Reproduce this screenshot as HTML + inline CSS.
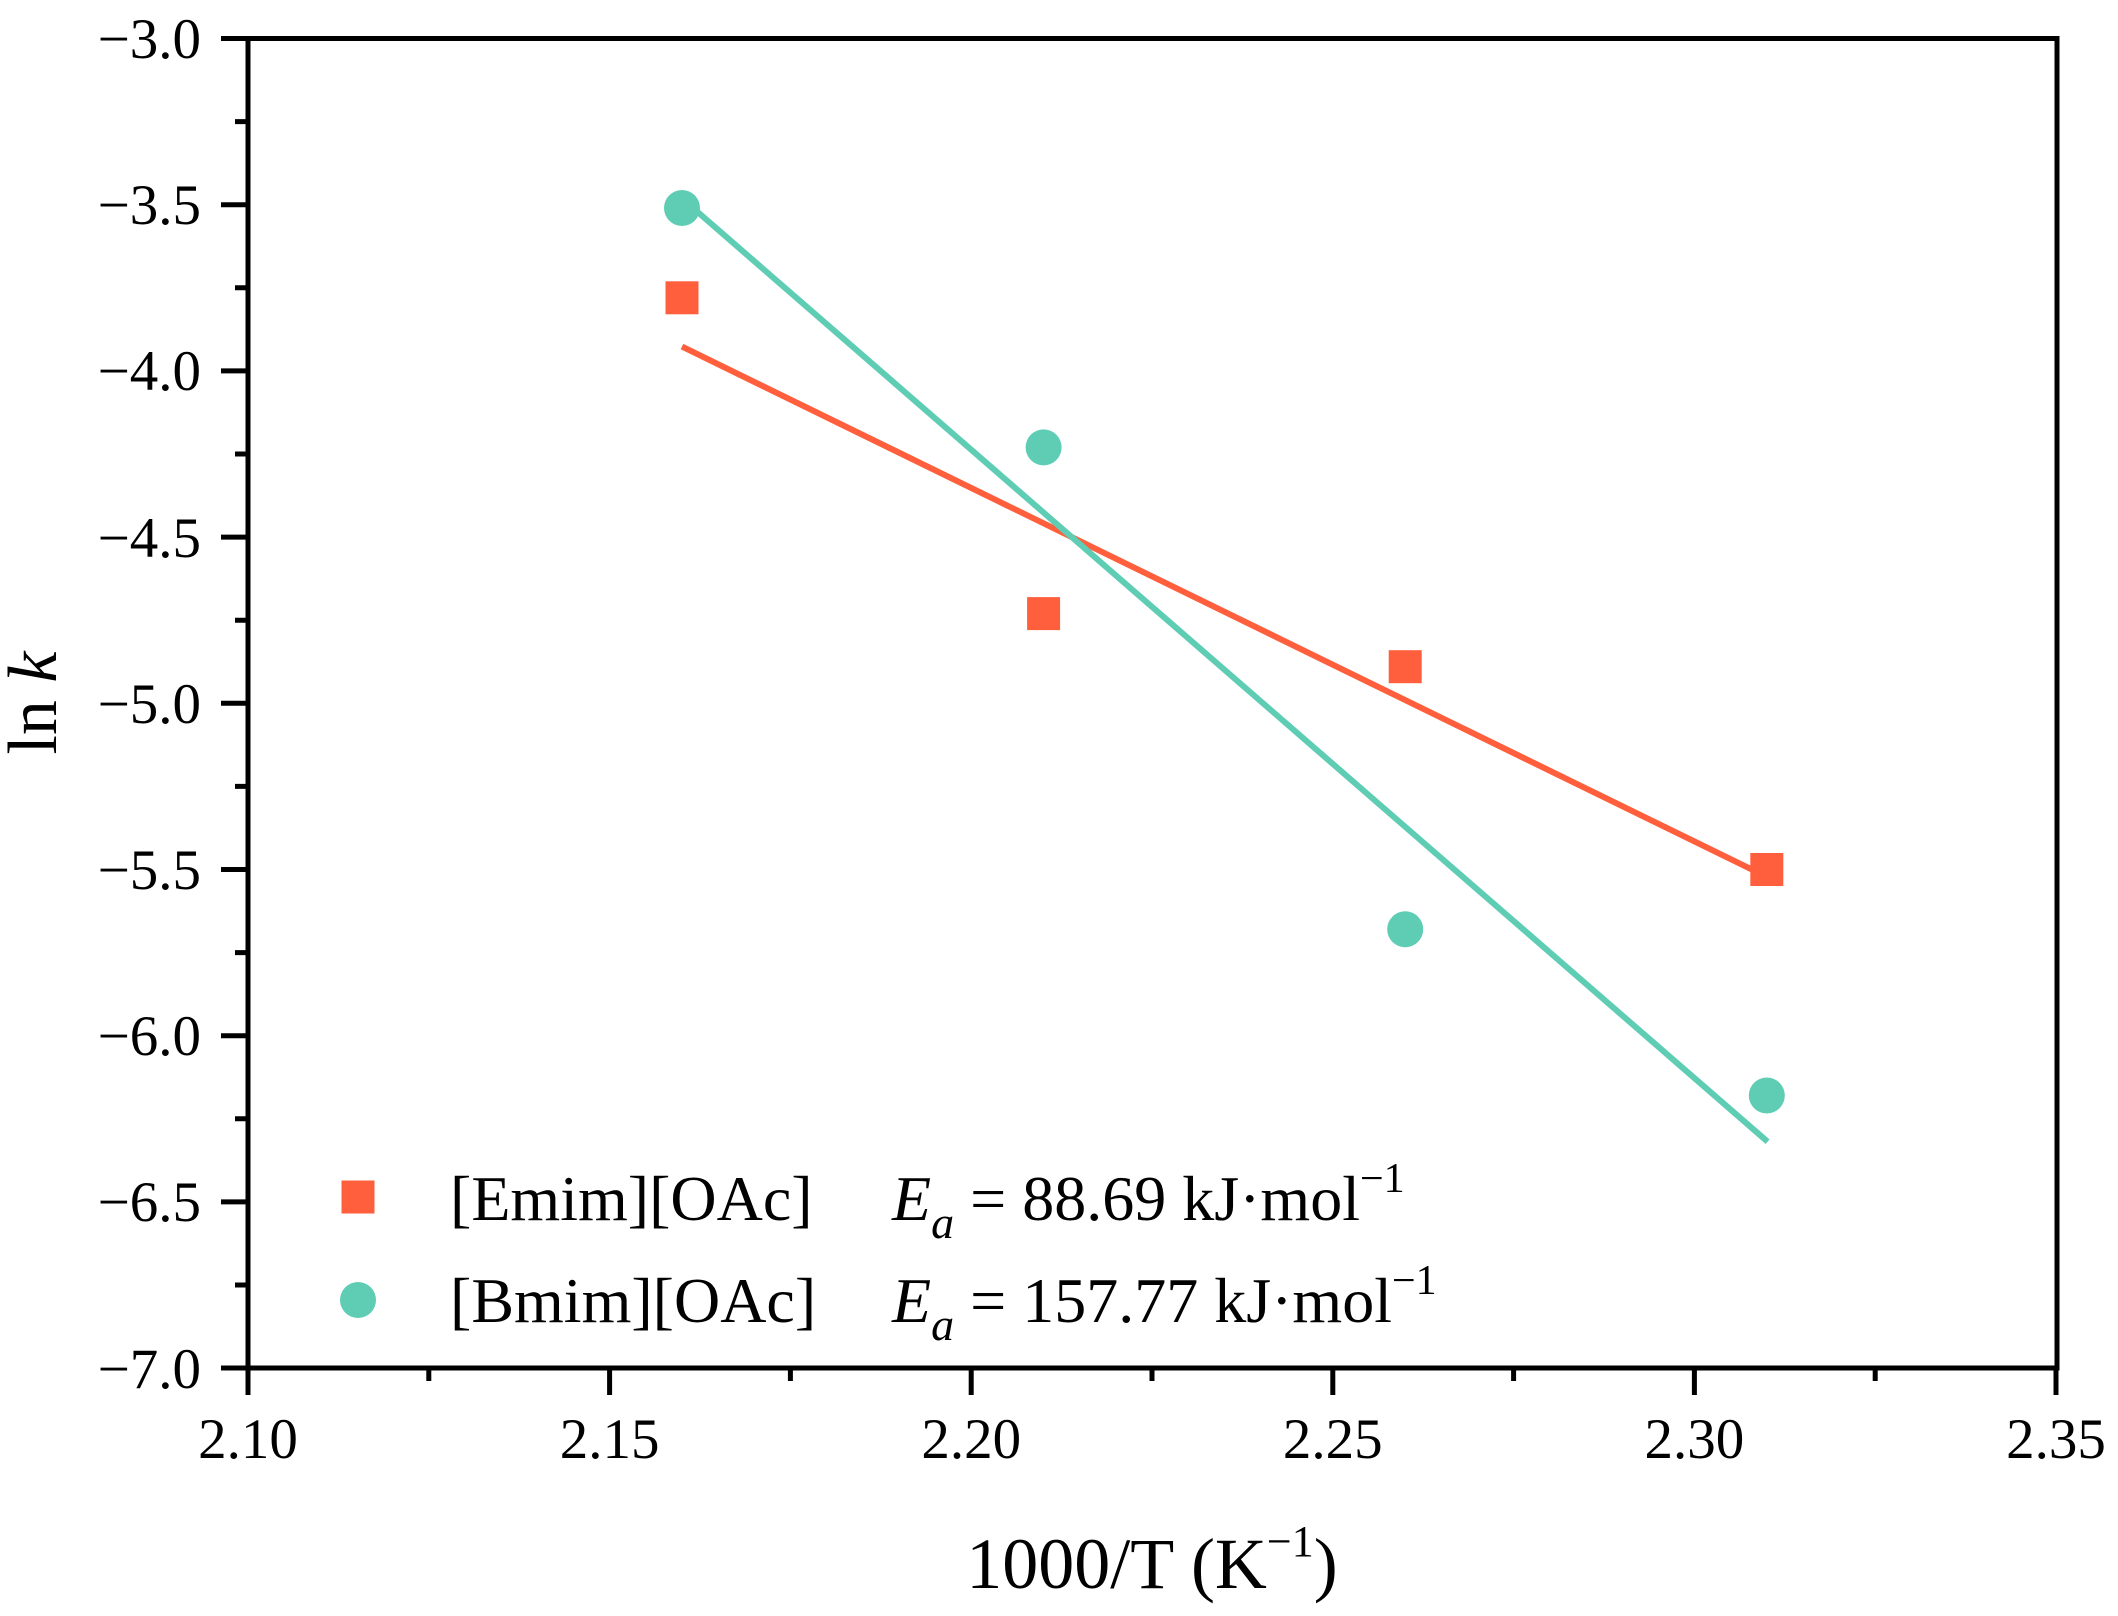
<!DOCTYPE html>
<html><head><meta charset="utf-8"><style>html,body{margin:0;padding:0;background:#fff}svg{display:block}</style></head>
<body>
<svg width="2118" height="1616" viewBox="0 0 2118 1616" xmlns="http://www.w3.org/2000/svg" font-family="Liberation Serif, serif">
<rect width="2118" height="1616" fill="#fff"/>
<g stroke="#000" stroke-width="5" fill="none">
<rect x="248" y="38.5" width="1809" height="1329.5"/>
<path d="M221 38.5H248M221 204.7H248M221 370.9H248M221 537.1H248M221 703.3H248M221 869.5H248M221 1035.7H248M221 1201.9H248M221 1368H248"/>
<path d="M235 121.6H248M235 287.8H248M235 454H248M235 620.2H248M235 786.4H248M235 952.6H248M235 1118.8H248M235 1285H248"/>
<path d="M248 1368V1395M609.6 1368V1395M971.2 1368V1395M1332.8 1368V1395M1694.4 1368V1395M2056 1368V1395"/>
<path d="M428.8 1368V1381M790.4 1368V1381M1152 1368V1381M1513.6 1368V1381M1875.2 1368V1381"/>
</g>
<g font-size="57" fill="#000" text-anchor="end">
<text x="201" y="58">−3.0</text>
<text x="201" y="224">−3.5</text>
<text x="201" y="390">−4.0</text>
<text x="201" y="557">−4.5</text>
<text x="201" y="723">−5.0</text>
<text x="201" y="889">−5.5</text>
<text x="201" y="1055">−6.0</text>
<text x="201" y="1221">−6.5</text>
<text x="201" y="1388">−7.0</text>
</g>
<g font-size="57" fill="#000" text-anchor="middle">
<text x="248" y="1458">2.10</text>
<text x="609.6" y="1458">2.15</text>
<text x="971.2" y="1458">2.20</text>
<text x="1332.8" y="1458">2.25</text>
<text x="1694.4" y="1458">2.30</text>
<text x="2056" y="1458">2.35</text>
</g>
<text x="1152" y="1588" font-size="72" text-anchor="middle" fill="#000">1000/T (K<tspan font-size="44" dy="-32">−1</tspan><tspan dy="32">)</tspan></text>
<text transform="translate(56,703) rotate(-90)" font-size="70" text-anchor="middle" fill="#000">ln <tspan font-style="italic">k</tspan></text>
<line x1="682" y1="346.6" x2="1767.6" y2="877.2" stroke="#FF5F3C" stroke-width="6"/>
<line x1="682" y1="198.4" x2="1767.6" y2="1141.7" stroke="#5ECDB4" stroke-width="6"/>
<g fill="#FF5F3C">
<rect x="665.5" y="281.3" width="33" height="33"/>
<rect x="1027.1" y="597.1" width="33" height="33"/>
<rect x="1388.7" y="650.2" width="33" height="33"/>
<rect x="1750.3" y="853" width="33" height="33"/>
<rect x="341.5" y="1180.5" width="33" height="33"/>
</g>
<g fill="#5ECDB4">
<circle cx="682" cy="208" r="18"/>
<circle cx="1043.6" cy="447.4" r="18"/>
<circle cx="1405.2" cy="929.3" r="18"/>
<circle cx="1766.8" cy="1095.5" r="18"/>
<circle cx="358" cy="1300" r="18"/>
</g>
<g font-size="64" fill="#000">
<text x="450" y="1220">[Emim][OAc]</text>
<text x="450" y="1322">[Bmim][OAc]</text>
<text x="892" y="1220"><tspan font-style="italic">E</tspan><tspan font-style="italic" font-size="46" dy="18">a</tspan><tspan dy="-18"> = 88.69 kJ·mol</tspan><tspan font-size="42" dy="-28">−1</tspan></text>
<text x="892" y="1322"><tspan font-style="italic">E</tspan><tspan font-style="italic" font-size="46" dy="18">a</tspan><tspan dy="-18"> = 157.77 kJ·mol</tspan><tspan font-size="42" dy="-28">−1</tspan></text>
</g>
</svg>
</body></html>
